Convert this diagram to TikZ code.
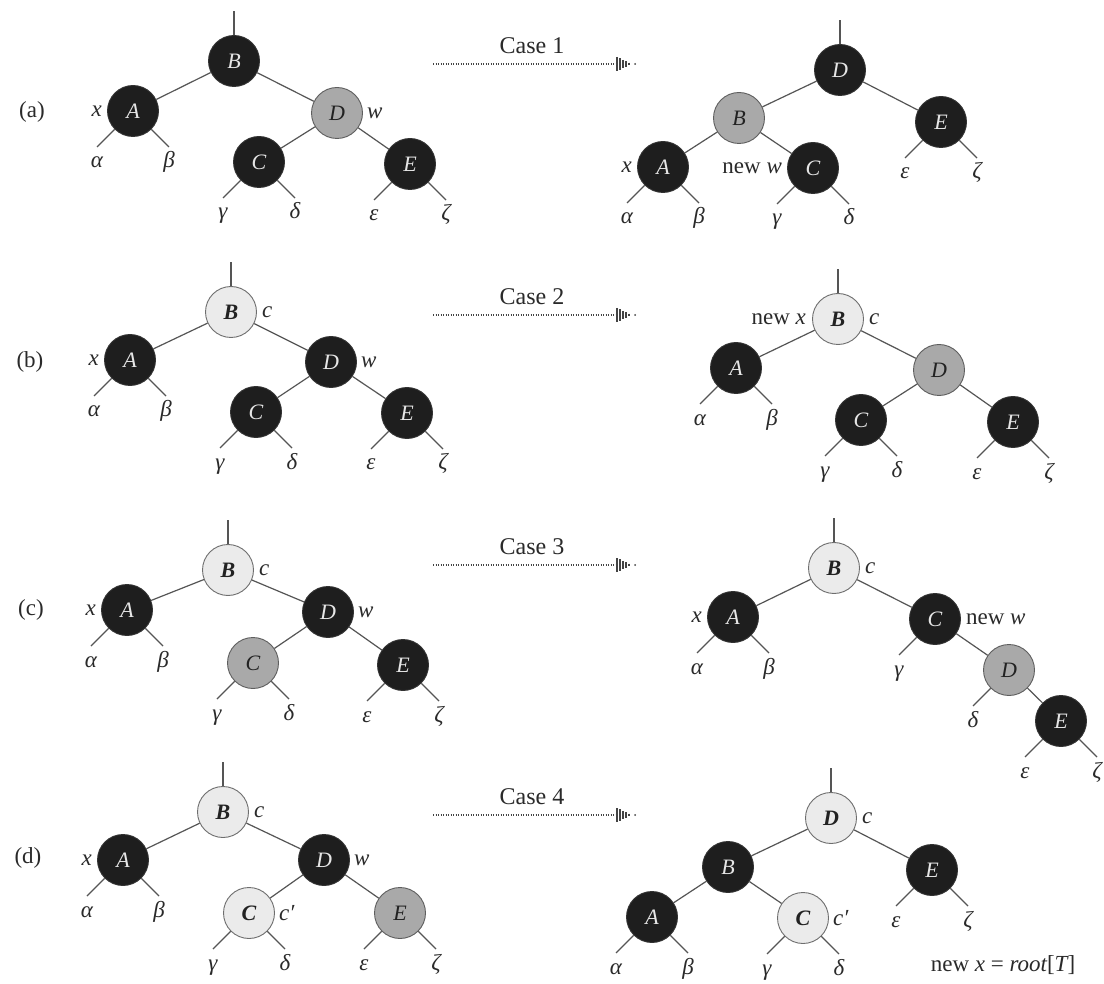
\documentclass[tikz,border=0pt]{standalone}
\usepackage{fontspec}
\setmainfont{Liberation Serif}
\usetikzlibrary{calc,positioning}
\definecolor{nblack}{HTML}{1E1E1E}
\definecolor{nblackline}{HTML}{333333}
\definecolor{nblacktext}{HTML}{E6E6E6}
\definecolor{ngray}{HTML}{A9A9A9}
\definecolor{ngrayline}{HTML}{5E5E5E}
\definecolor{nlight}{HTML}{EBEBEB}
\definecolor{nlightline}{HTML}{6E6E6E}
\definecolor{ntext}{HTML}{222222}
\definecolor{edgec}{HTML}{555555}
\definecolor{arrc}{HTML}{444444}
\definecolor{labc}{HTML}{2A2A2A}
\newcommand\nodefont{\fontsize{22}{26}\selectfont}
\newcommand\labfont{\fontsize{23}{27}\selectfont}
\tikzset{
  rb/.style={circle, minimum size=51pt, inner sep=0pt, line width=0.9pt},
  blk/.style={rb, fill=nblack, draw=nblackline, text=nblacktext, font=\nodefont\itshape},
  gry/.style={rb, fill=ngray, draw=ngrayline, text=ntext, font=\nodefont\itshape},
  lgt/.style={rb, fill=nlight, draw=nlightline, text=ntext, font=\nodefont\bfseries\itshape},
  edge/.style={draw=edgec, line width=1.2pt},
  lab/.style={text=labc, font=\labfont, inner sep=0pt},
  dotline/.style={draw=arrc, line width=2.2pt, dash pattern=on 1.2pt off 1.3pt},
  tipline/.style={draw=arrc, line width=1.7pt},
}
% leaf stub: #1 name, #2 parent node, #3 direction (-1 left, 1 right), #4 greek letter
\newcommand\leaf[4]{%
  \coordinate (#1) at ($(#2)+(#3*36,36)$);
  \draw[edge] (#2) -- (#1);
  \node[lab, anchor=base] (#1t) at ($(#1)+(0,21)$) {\itshape #4};
}
% root stub above node #1
\newcommand\rootstub[1]{%
  \coordinate (#1top) at ($(#1)+(0,-50)$);
  \draw[edge] (#1) -- (#1top);
}
% case arrow: #1 name prefix, #2 y, #3 text
\newcommand\casearrow[3]{%
  \node[lab, font=\fontsize{24}{28}\selectfont] (#1txt) at (532,#2-18) {#3};
  \coordinate (#1s) at (433,#2);
  \coordinate (#1e) at (617,#2);
  \draw[dotline] (#1s) -- (#1e);
  \foreach \dx/\h in {0/7,3/5.6,6/4.1,9/2.7,12/1.3}{
    \draw[tipline] ($(#1e)+(\dx,-\h)$) -- ($(#1e)+(\dx,\h)$);
  }
  \fill[arrc] ($(#1e)+(18,0)$) circle (1.0);
}
\begin{document}
\begin{tikzpicture}[x=1pt,y=-1pt]
\fill[white] (0,0) rectangle (1104,984);
\useasboundingbox (0,0) rectangle (1104,984);

%%%%%%%%%%%%%%%% (a) %%%%%%%%%%%%%%%%
\node[lab] (pa) at (32,112) {(a)};
\node[blk] (aLB) at (234,61) {B};
\node[blk] (aLA) at (133,111) {A};
\node[gry] (aLD) at (337,113) {D};
\node[blk] (aLC) at (259,162) {C};
\node[blk] (aLE) at (410,164) {E};
\node[lab, left=5pt of aLA] (aLx) {\itshape x};
\node[lab, right=4pt of aLD] (aLw) {\itshape w};
\rootstub{aLB}
\draw[edge] (aLB) -- (aLA);
\draw[edge] (aLB) -- (aLD);
\draw[edge] (aLD) -- (aLC);
\draw[edge] (aLD) -- (aLE);
\leaf{aLa}{aLA}{-1}{α}
\leaf{aLb}{aLA}{1}{β}
\leaf{aLg}{aLC}{-1}{γ}
\leaf{aLd}{aLC}{1}{δ}
\leaf{aLe}{aLE}{-1}{ε}
\leaf{aLz}{aLE}{1}{ζ}

\casearrow{c1}{64}{Case 1}

\node[blk] (aRD) at (840,70) {D};
\node[gry] (aRB) at (739,118) {B};
\node[blk] (aRE) at (941,122) {E};
\node[blk] (aRA) at (663,167) {A};
\node[blk] (aRC) at (813,168) {C};
\node[lab, left=5pt of aRA] (aRx) {\itshape x};
\node[lab, left=5pt of aRC] (aRw) {new \itshape w};
\rootstub{aRD}
\draw[edge] (aRD) -- (aRB);
\draw[edge] (aRD) -- (aRE);
\draw[edge] (aRB) -- (aRA);
\draw[edge] (aRB) -- (aRC);
\leaf{aRa}{aRA}{-1}{α}
\leaf{aRb}{aRA}{1}{β}
\leaf{aRg}{aRC}{-1}{γ}
\leaf{aRd}{aRC}{1}{δ}
\leaf{aRe}{aRE}{-1}{ε}
\leaf{aRz}{aRE}{1}{ζ}

%%%%%%%%%%%%%%%% (b) %%%%%%%%%%%%%%%%
\node[lab] (pb) at (30,362) {(b)};
\node[lgt] (bLB) at (231,312) {B};
\node[blk] (bLA) at (130,360) {A};
\node[blk] (bLD) at (331,362) {D};
\node[blk] (bLC) at (256,412) {C};
\node[blk] (bLE) at (407,413) {E};
\node[lab, right=5pt of bLB] (bLc) {\itshape c};
\node[lab, left=5pt of bLA] (bLx) {\itshape x};
\node[lab, right=4pt of bLD] (bLw) {\itshape w};
\rootstub{bLB}
\draw[edge] (bLB) -- (bLA);
\draw[edge] (bLB) -- (bLD);
\draw[edge] (bLD) -- (bLC);
\draw[edge] (bLD) -- (bLE);
\leaf{bLa}{bLA}{-1}{α}
\leaf{bLb}{bLA}{1}{β}
\leaf{bLg}{bLC}{-1}{γ}
\leaf{bLd}{bLC}{1}{δ}
\leaf{bLe}{bLE}{-1}{ε}
\leaf{bLz}{bLE}{1}{ζ}

\casearrow{c2}{315}{Case 2}

\node[lgt] (bRB) at (838,319) {B};
\node[blk] (bRA) at (736,368) {A};
\node[gry] (bRD) at (939,370) {D};
\node[blk] (bRC) at (861,420) {C};
\node[blk] (bRE) at (1013,422) {E};
\node[lab, left=6pt of bRB] (bRx) {new \itshape x};
\node[lab, right=5pt of bRB] (bRc) {\itshape c};
\rootstub{bRB}
\draw[edge] (bRB) -- (bRA);
\draw[edge] (bRB) -- (bRD);
\draw[edge] (bRD) -- (bRC);
\draw[edge] (bRD) -- (bRE);
\leaf{bRa}{bRA}{-1}{α}
\leaf{bRb}{bRA}{1}{β}
\leaf{bRg}{bRC}{-1}{γ}
\leaf{bRd}{bRC}{1}{δ}
\leaf{bRe}{bRE}{-1}{ε}
\leaf{bRz}{bRE}{1}{ζ}

%%%%%%%%%%%%%%%% (c) %%%%%%%%%%%%%%%%
\node[lab] (pc) at (31,610) {(c)};
\node[lgt] (cLB) at (228,570) {B};
\node[blk] (cLA) at (127,610) {A};
\node[blk] (cLD) at (328,612) {D};
\node[gry] (cLC) at (253,663) {C};
\node[blk] (cLE) at (403,665) {E};
\node[lab, right=5pt of cLB] (cLc) {\itshape c};
\node[lab, left=5pt of cLA] (cLx) {\itshape x};
\node[lab, right=4pt of cLD] (cLw) {\itshape w};
\rootstub{cLB}
\draw[edge] (cLB) -- (cLA);
\draw[edge] (cLB) -- (cLD);
\draw[edge] (cLD) -- (cLC);
\draw[edge] (cLD) -- (cLE);
\leaf{cLa}{cLA}{-1}{α}
\leaf{cLb}{cLA}{1}{β}
\leaf{cLg}{cLC}{-1}{γ}
\leaf{cLd}{cLC}{1}{δ}
\leaf{cLe}{cLE}{-1}{ε}
\leaf{cLz}{cLE}{1}{ζ}

\casearrow{c3}{565}{Case 3}

\node[lgt] (cRB) at (834,568) {B};
\node[blk] (cRA) at (733,617) {A};
\node[blk] (cRC) at (935,619) {C};
\node[gry] (cRD) at (1009,670) {D};
\node[blk] (cRE) at (1061,721) {E};
\node[lab, right=5pt of cRB] (cRc) {\itshape c};
\node[lab, left=5pt of cRA] (cRx) {\itshape x};
\node[lab, right=5pt of cRC] (cRw) {new \itshape w};
\rootstub{cRB}
\draw[edge] (cRB) -- (cRA);
\draw[edge] (cRB) -- (cRC);
\draw[edge] (cRC) -- (cRD);
\draw[edge] (cRD) -- (cRE);
\leaf{cRa}{cRA}{-1}{α}
\leaf{cRb}{cRA}{1}{β}
\leaf{cRg}{cRC}{-1}{γ}
\leaf{cRd}{cRD}{-1}{δ}
\leaf{cRe}{cRE}{-1}{ε}
\leaf{cRz}{cRE}{1}{ζ}

%%%%%%%%%%%%%%%% (d) %%%%%%%%%%%%%%%%
\node[lab] (pd) at (28,858) {(d)};
\node[lgt] (dLB) at (223,812) {B};
\node[blk] (dLA) at (123,860) {A};
\node[blk] (dLD) at (324,860) {D};
\node[lgt] (dLC) at (249,913) {C};
\node[gry] (dLE) at (400,913) {E};
\node[lab, right=5pt of dLB] (dLc) {\itshape c};
\node[lab, left=5pt of dLA] (dLx) {\itshape x};
\node[lab, right=4pt of dLD] (dLw) {\itshape w};
\node[lab, right=4pt of dLC] (dLcp) {\itshape c′};
\rootstub{dLB}
\draw[edge] (dLB) -- (dLA);
\draw[edge] (dLB) -- (dLD);
\draw[edge] (dLD) -- (dLC);
\draw[edge] (dLD) -- (dLE);
\leaf{dLa}{dLA}{-1}{α}
\leaf{dLb}{dLA}{1}{β}
\leaf{dLg}{dLC}{-1}{γ}
\leaf{dLd}{dLC}{1}{δ}
\leaf{dLe}{dLE}{-1}{ε}
\leaf{dLz}{dLE}{1}{ζ}

\casearrow{c4}{815}{Case 4}

\node[lgt] (dRD) at (831,818) {D};
\node[blk] (dRB) at (728,867) {B};
\node[blk] (dRE) at (932,870) {E};
\node[blk] (dRA) at (652,917) {A};
\node[lgt] (dRC) at (803,918) {C};
\node[lab, right=5pt of dRD] (dRc) {\itshape c};
\node[lab, right=4pt of dRC] (dRcp) {\itshape c′};
\rootstub{dRD}
\draw[edge] (dRD) -- (dRB);
\draw[edge] (dRD) -- (dRE);
\draw[edge] (dRB) -- (dRA);
\draw[edge] (dRB) -- (dRC);
\leaf{dRa}{dRA}{-1}{α}
\leaf{dRb}{dRA}{1}{β}
\leaf{dRg}{dRC}{-1}{γ}
\leaf{dRd}{dRC}{1}{δ}
\leaf{dRe}{dRE}{-1}{ε}
\leaf{dRz}{dRE}{1}{ζ}
\node[lab] (root) at (1003,965) {new {\itshape x} = {\itshape root}[{\itshape T}]};
\end{tikzpicture}
\end{document}
